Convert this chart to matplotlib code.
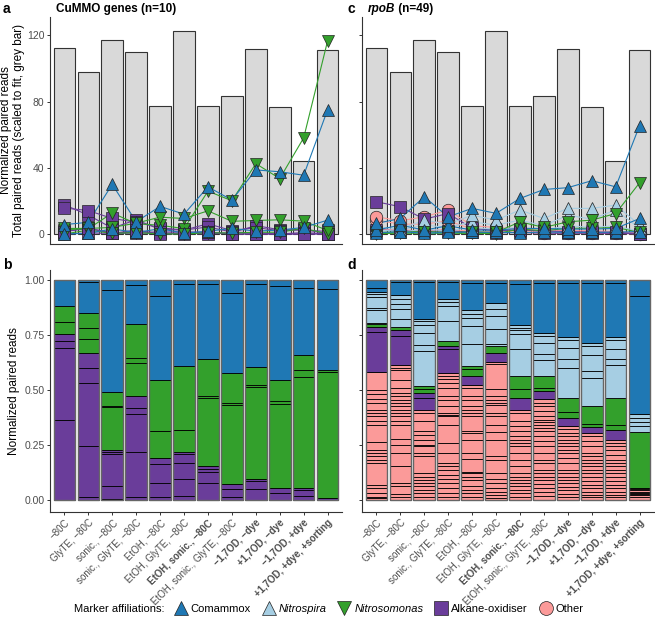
import matplotlib
matplotlib.use("Agg")
import matplotlib.pyplot as plt
from matplotlib.lines import Line2D
import numpy as np

plt.rcParams['font.family'] = ['Liberation Sans', 'DejaVu Sans']

# ---- sample names (x axis) ----
samples = ["−80C", "GlyTE, −80C", "sonic., −80C", "sonic., GlyTE, −80C", "EtOH, −80C",
           "EtOH, GlyTE, −80C", "EtOH, sonic., −80C", "EtOH, sonic., GlyTE, −80C",
           "−1,7OD, −dye", "+1,7OD, −dye", "−1,7OD, +dye", "+1,7OD, +dye, +sorting"]
bold_samples = [6, 8, 9, 10, 11]

# total paired reads, scaled to fit (grey bars)
total_scaled = [112.4, 97.9, 117.4, 110.0, 77.3, 122.4, 77.5, 83.5, 111.8, 76.5, 44.0, 111.0]

# ---- CuMMO genes (n=10), normalized paired reads ----
cummo_alk1 = [0.05, 0.7, 0.4, 0.6, 0.5, 0.6, 0.05, 0.8, 5.1, 2.6, 2.3, 1.6]
cummo_alk2 = [17.7, 11.4, 3.6, 8.6, 2.8, 2.4, 6.2, 2.1, 3.9, 2.0, 2.9, 0.1]
cummo_alk3 = [15.7, 14.2, 9.4, 7.2, 3.8, 2.4, 4.3, 1.2, 0.7, 0.05, 0.9, 0.1]
cummo_alk4 = [1.7, 3.5, 0.8, 1.1, 1.2, 1.3, 1.1, 0.05, 0.1, 0.05, 0.05, 0.1]
cummo_alk5 = [1.5, 3.4, 0.4, 2.4, 0.05, 0.3, 1.1, 0.05, 0.1, 0.05, 0.05, 0.1]
cummo_nsm_big = [2.7, 3.2, 12.7, 6.3, 5.3, 3.3, 25.9, 20.1, 42.5, 33.5, 58.1, 116.7]
cummo_nsm_thin = [0.05, 2.4, 0.4, 0.9, 0.1, 0.05, 0.8, 0.6, 1.1, 1.1, 3.5, 0.1]
cummo_nsm_mid = [3.4, 3.4, 4.0, 6.6, 10.2, 9.4, 14.0, 7.7, 8.2, 8.6, 7.8, 2.2]
cummo_cmx_main = [5.7, 7.1, 30.0, 7.4, 16.7, 12.0, 28.5, 20.5, 38.7, 37.6, 35.5, 75.1]
cummo_cmx_small = [0.1, 0.4, 3.1, 1.0, 3.2, 0.6, 1.7, 3.4, 1.8, 2.4, 4.0, 8.4]

# ---- rpoB (n=49), most visible marker series ----
rpob_lines = [
    ("oth", [3.0, 2.5, 2.0, 3.0, 1.5, 1.5, 1.0, 0.8, 0.8, 0.6, 0.5, 0.1]),
    ("oth", [8.4, 6.0, 6.0, 8.0, 3.0, 3.0, 2.0, 1.5, 1.5, 1.0, 1.0, 0.2]),
    ("oth", [10.4, 8.0, 10.4, 14.5, 5.0, 4.0, 3.0, 2.5, 2.0, 2.0, 1.5, 0.5]),
    ("alk", [2.5, 2.0, 1.5, 2.0, 1.0, 0.8, 1.0, 0.5, 0.5, 0.5, 0.4, 0.2]),
    ("alk", [19.5, 16.5, 9.0, 12.4, 3.5, 2.0, 2.5, 1.8, 1.5, 1.2, 1.0, 0.3]),
    ("nsp", [1.0, 1.0, 3.0, 2.0, 4.0, 3.0, 4.0, 2.5, 5.0, 4.0, 5.0, 1.5]),
    ("nsp", [2.0, 2.5, 5.4, 4.0, 7.4, 5.4, 8.4, 5.0, 11.4, 9.0, 14.5, 3.4]),
    ("nsp", [4.4, 3.0, 8.4, 6.0, 11.4, 8.4, 14.5, 9.4, 15.5, 15.5, 17.5, 5.4]),
    ("nsm", [0.3, 0.5, 0.5, 0.5, 0.4, 0.3, 3.0, 2.0, 3.5, 3.5, 4.0, 1.0]),
    ("nsm", [1.0, 1.2, 1.5, 1.0, 1.2, 1.0, 7.4, 4.0, 7.4, 8.4, 12.4, 31.0]),
    ("cmx", [0.8, 1.4, 0.6, 1.0, 1.2, 1.0, 0.8, 1.2, 1.0, 1.0, 1.2, 1.5]),
    ("cmx", [2.4, 5.4, 2.4, 5.0, 2.4, 2.4, 3.4, 3.4, 3.0, 3.0, 3.4, 9.4]),
    ("cmx", [6.4, 9.4, 22.5, 10.4, 15.5, 12.5, 21.5, 26.9, 28.0, 32.2, 28.5, 65.5]),
]

# rpoB normalized reads: cumulative segment tops (%) per sample, per affiliation
rpob_oth_tops = [
    [0.8, 1.5, 3.0, 5.3, 6.8, 16.7, 18.2, 19.8, 21.3, 22.5, 26.1, 34.2, 35.7, 38.0, 39.5, 41.0, 44.1, 45.9, 48.3, 49.8, 58.1],
    [1.5, 2.7, 6.1, 7.6, 15.2, 21.3, 25.1, 27.7, 34.2, 35.7, 38.0, 39.5, 40.7, 42.6, 44.1, 45.6, 47.1, 48.6, 50.9, 54.7, 59.0, 60.0, 61.1],
    [1.5, 3.0, 4.6, 6.1, 7.6, 9.1, 10.6, 12.2, 19.8, 21.3, 24.3, 25.1, 27.4, 29.6, 31.2, 35.7, 39.5, 40.7],
    [1.5, 3.0, 5.3, 7.6, 9.4, 11.4, 13.7, 15.2, 17.0, 21.3, 25.8, 34.2, 38.0, 38.8, 39.5, 42.6, 45.6, 47.4, 50.9, 53.2, 55.0, 56.5, 57.8],
    [1.5, 3.0, 4.6, 6.1, 9.1, 10.6, 12.2, 12.9, 18.5, 21.3, 27.4, 30.4, 31.2, 38.0, 39.5, 41.0, 42.6, 45.6, 47.1, 50.9, 52.4],
    [0.8, 2.3, 3.8, 5.3, 7.6, 9.4, 12.2, 18.2, 19.8, 27.4, 30.7, 34.2, 38.0, 39.5, 43.3, 44.1, 45.6, 47.1, 50.2, 61.6, 62.6],
    [1.5, 3.0, 4.3, 6.1, 7.6, 9.1, 10.3, 12.2, 15.2, 18.2, 21.3, 24.3, 25.8, 27.4, 28.9, 31.2, 33.4, 35.7, 39.5, 40.7],
    [1.8, 3.8, 5.3, 7.3, 9.1, 10.3, 12.2, 13.7, 16.7, 18.2, 21.3, 24.3, 26.6, 28.9, 31.2, 32.7, 34.2, 35.3, 36.5, 38.0, 40.3, 42.6, 44.1, 45.9],
    [1.5, 2.7, 4.3, 5.8, 7.6, 9.1, 10.6, 12.2, 13.7, 16.7, 19.0, 21.3, 22.8, 24.3, 25.8, 27.4, 28.9, 30.4, 32.2, 33.4],
    [1.2, 2.3, 3.8, 5.3, 6.8, 8.8, 10.3, 12.2, 13.7, 15.2, 16.7, 18.2, 19.8, 21.3, 24.3, 26.6, 28.9, 30.4],
    [1.2, 2.3, 3.8, 5.3, 6.8, 8.8, 10.3, 12.2, 13.4, 15.2, 16.7, 18.2, 20.5, 22.8, 24.3, 25.8, 27.4],
    [1.2, 2.3, 2.8, 3.3, 3.8, 4.3, 4.8, 5.3],
]
rpob_alk_tops = [[76.3, 78.7], [74.5, 77.2], [46.5, 48.6], [68.4, 69.9], [56.5], [66.9],
                 [46.4], [49.4], [37.2], [33.1], [31.9], [5.4]]
rpob_nsm_tops = [[79.8], [78.7], [50.5, 51.7], [72.2], [59.6, 60.8], [69.9],
                 [50.5, 56.2], [50.9, 56.2], [39.8, 46.4], [34.7, 42.6], [34.2, 46.4], [30.7]]
rpob_nsp_tops = [[80.5, 86.2, 87.4, 92.4, 93.5, 94.7], [82.1, 86.6, 88.9, 91.2, 93.0],
                 [67.6, 70.2, 76.0, 79.3, 81.3, 82.4], [81.3, 88.1, 90.0, 91.2],
                 [70.7, 79.0, 82.8, 84.3, 86.3], [70.7, 77.5, 83.6, 86.6, 89.4],
                 [68.4, 75.2, 77.2, 78.3, 79.3], [63.5, 66.1, 71.4, 74.5, 76.0],
                 [60.0, 64.1, 69.1, 72.9, 74.2], [55.5, 58.5, 65.7, 69.9, 71.4],
                 [61.1, 64.1, 68.7, 72.9, 74.2], [33.4, 35.3, 37.2, 39.2]]
rpob_cmx_tops = [[96.5, 100], [99.0, 100], [99.2, 100], [99.1, 100], [98.8, 100], [98.8, 100],
                 [98.0, 100], [98.8, 100], [98.8, 100], [98.8, 100], [98.8, 100], [92.7, 100]]

colors = {"cmx": "#1f78b4", "nsp": "#a6cee3", "nsm": "#33a02c", "alk": "#6a3d9a", "oth": "#fb9a99"}
markers = {"cmx": "^", "nsp": "^", "nsm": "v", "alk": "s", "oth": "o"}

# stack order bottom -> top
cummo_genes = [("alk", cummo_alk1), ("alk", cummo_alk2), ("alk", cummo_alk3), ("alk", cummo_alk4),
               ("alk", cummo_alk5), ("nsm", cummo_nsm_big), ("nsm", cummo_nsm_thin),
               ("nsm", cummo_nsm_mid), ("cmx", cummo_cmx_main), ("cmx", cummo_cmx_small)]

x = np.arange(len(samples))
tick_col = "#4d4d4d"

fig = plt.figure(figsize=(6.55, 6.21), dpi=100)
W, H = 655.0, 621.0


def make_ax(left, right, top, bottom):
    return fig.add_axes([left / W, 1 - bottom / H, (right - left) / W, (bottom - top) / H])


ax_a = make_ax(50, 342, 17, 244)
ax_c = make_ax(362, 654, 17, 244)
ax_b = make_ax(50, 342, 270, 512)
ax_d = make_ax(362, 654, 270, 512)

for ax in (ax_a, ax_b, ax_c, ax_d):
    ax.spines['top'].set_visible(False)
    ax.spines['right'].set_visible(False)
    for s in ('left', 'bottom'):
        ax.spines[s].set_color('#333333')
        ax.spines[s].set_linewidth(0.8)
    ax.set_xlim(-0.6, len(samples) - 0.4)
    ax.tick_params(colors='#333333', labelcolor=tick_col, labelsize=7.5, length=2.5, width=0.7, pad=1.5)


def draw_top(ax, series):
    ax.bar(x, total_scaled, width=0.9, color='#d9d9d9', edgecolor='#333333', linewidth=0.8, zorder=1)
    for grp in ["oth", "alk", "nsp", "nsm", "cmx"]:
        for g, vals in series:
            if g != grp:
                continue
            ax.plot(x, vals, color=colors[g], linewidth=0.8, zorder=2)
            ax.plot(x, vals, linestyle='none', marker=markers[g], markersize=9,
                    markerfacecolor=colors[g], markeredgecolor='#222222', markeredgewidth=0.5, zorder=3)
    ax.set_ylim(-6, 131)
    ax.set_yticks([0, 40, 80, 120])
    ax.set_xticks([])


draw_top(ax_a, cummo_genes)
draw_top(ax_c, rpob_lines)
ax_c.set_yticklabels([])
ax_a.set_ylabel("Normalized paired reads\nTotal paired reads (scaled to fit, grey bar)",
                fontsize=8.5, color='black', linespacing=1.15)
ax_a.yaxis.set_label_coords((25 - 50) / 292, 0.5)

# ---- panel b: proportions of CuMMO genes ----
cummo_totals = np.sum([vals for g, vals in cummo_genes], axis=0)
bottom = np.zeros(len(samples))
for g, vals in cummo_genes:
    frac = np.array(vals) / cummo_totals
    ax_b.bar(x, frac, bottom=bottom, width=0.9, color=colors[g], edgecolor='black', linewidth=0.6)
    bottom += frac

# ---- panel d: proportions of rpoB genes ----
for j in x:
    prev = 0.0
    for g, tops in (("oth", rpob_oth_tops), ("alk", rpob_alk_tops), ("nsm", rpob_nsm_tops),
                    ("nsp", rpob_nsp_tops), ("cmx", rpob_cmx_tops)):
        for t in tops[j]:
            ax_d.bar(j, (t - prev) / 100, bottom=prev / 100, width=0.9, color=colors[g],
                     edgecolor='black', linewidth=0.6)
            prev = t

for ax in (ax_b, ax_d):
    ax.bar(x, [1] * len(samples), width=0.9, fill=False, edgecolor='#666666', linewidth=1.0)
    ax.set_ylim(-0.055, 1.045)
    ax.set_yticks([0, 0.25, 0.5, 0.75, 1.0])
    ax.set_xticks(x)
    ax.set_xticklabels(samples, rotation=45, ha='right', rotation_mode='anchor', fontsize=7)
    for i, lab in enumerate(ax.get_xticklabels()):
        if i in bold_samples:
            lab.set_fontweight('bold')
ax_b.set_yticklabels(["0.00", "0.25", "0.50", "0.75", "1.00"])
ax_d.set_yticklabels([])
ax_b.set_ylabel("Normalized paired reads", fontsize=8.5, color='black')
ax_b.yaxis.set_label_coords((20 - 50) / 292, 0.5)

# ---- panel letters and titles ----
fig.text(3 / W, 1 - 9 / H, "a", fontsize=10, fontweight='bold', va='center')
fig.text(56 / W, 1 - 9 / H, "CuMMO genes (n=10)", fontsize=8.5, fontweight='bold', va='center')
fig.text(347 / W, 1 - 9 / H, "c", fontsize=10, fontweight='bold', va='center')
t1 = fig.text(368 / W, 1 - 9 / H, "rpoB", fontsize=8.5, fontweight='bold', fontstyle='italic', va='center')
ax_c.annotate(" (n=49)", xy=(1, 0.5), xycoords=t1, va='center', ha='left',
              fontsize=8.5, fontweight='bold', annotation_clip=False)
fig.text(3 / W, 1 - 265 / H, "b", fontsize=10, fontweight='bold', va='center')
fig.text(347 / W, 1 - 265 / H, "d", fontsize=10, fontweight='bold', va='center')

# ---- legend ----
labels = ["Comammox", "Nitrospira", "Nitrosomonas", "Alkane-oxidiser", "Other"]
handles = [Line2D([], [], linestyle='none', marker=markers[g], markersize=10,
                  markerfacecolor=colors[g], markeredgecolor='#222222', markeredgewidth=0.5)
           for g in ("cmx", "nsp", "nsm", "alk", "oth")]
fig.text(74 / W, 1 - 609 / H, "Marker affiliations:", fontsize=8, va='center')
leg = fig.legend(handles, labels, loc='center left', bbox_to_anchor=(174 / W, 1 - 609 / H),
                 ncol=5, frameon=False, fontsize=8, handletextpad=0.3, columnspacing=1.0,
                 handlelength=1.2, borderpad=0, borderaxespad=0)
for i in (1, 2):
    leg.get_texts()[i].set_fontstyle('italic')

fig.savefig("out.png", dpi=100)
